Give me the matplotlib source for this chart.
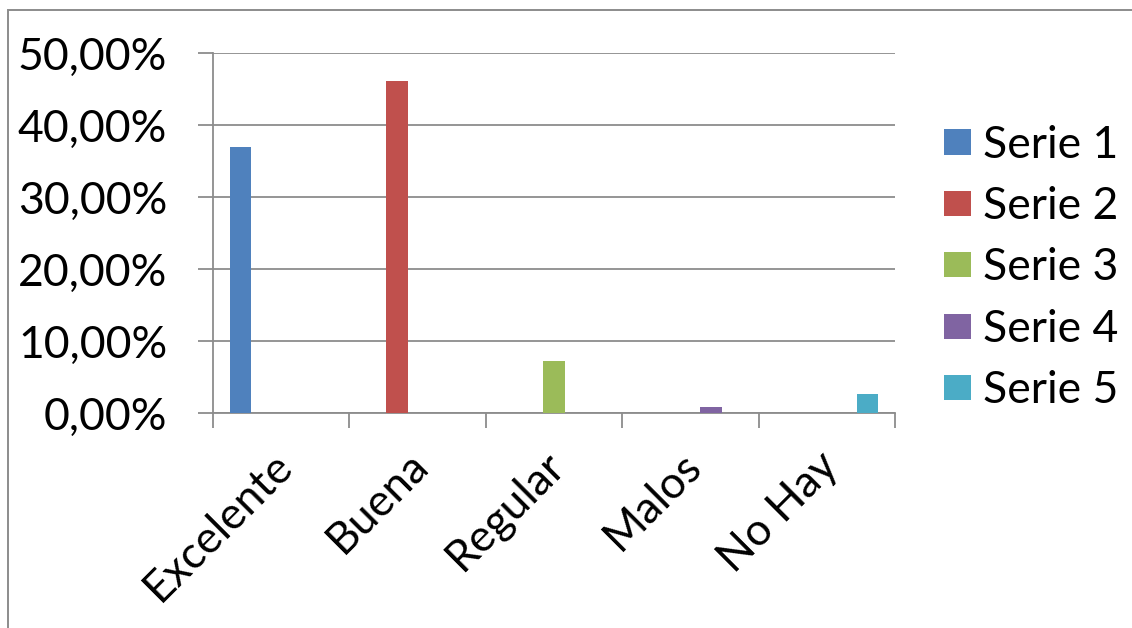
import matplotlib.pyplot as plt
from matplotlib.patches import Rectangle
from matplotlib.ticker import FuncFormatter, MultipleLocator
from matplotlib.transforms import ScaledTranslation
import numpy as np

# categories and series values (percent)
categories = ['Excelente', 'Buena', 'Regular', 'Malos', 'No Hay']
series_names = ['Serie 1', 'Serie 2', 'Serie 3', 'Serie 4', 'Serie 5']
serie_1 = [37.0, 0, 0, 0, 0]
serie_2 = [0, 46.1, 0, 0, 0]
serie_3 = [0, 0, 7.2, 0, 0]
serie_4 = [0, 0, 0, 0.8, 0]
serie_5 = [0, 0, 0, 0, 2.65]
colors = ['#4F81BD', '#C0504D', '#9BBB59', '#8064A2', '#4BACC6']

plt.rcParams['font.family'] = ['Lato', 'DejaVu Sans']

fig = plt.figure(figsize=(11.32, 6.28), dpi=100)
ax = fig.add_axes([213 / 1132, 1 - 413 / 628, 682 / 1132, 360 / 628])

# outer chart border (only left and top visible)
fig.patches.append(Rectangle((8 / 1132, -0.1), 1.2, 1 - 10 / 628 + 0.1,
                             transform=fig.transFigure, fill=False,
                             edgecolor='#8c8c8c', linewidth=1.4))

x = np.arange(len(categories))
step = 0.15
all_series = [serie_1, serie_2, serie_3, serie_4, serie_5]
for i, (vals, name, c) in enumerate(zip(all_series, series_names, colors)):
    ax.bar(x + (i - 2) * step, vals, width=0.158, color=c, label=name, zorder=3)

ax.set_xlim(-0.5, 4.5)
ax.set_ylim(0, 50)
ax.yaxis.set_major_locator(MultipleLocator(10))
ax.yaxis.set_major_formatter(FuncFormatter(lambda v, p: f'{v:.2f}%'.replace('.', ',')))
ax.grid(axis='y', color='#8c8c8c', linewidth=1.3, zorder=0)

# category ticks on boundaries, labels at centers
ax.set_xticks(np.arange(-0.5, 5, 1))
ax.set_xticklabels([])
ax.set_xticks(x, minor=True)
ax.set_xticklabels(categories, minor=True, rotation=45, ha='right', va='top',
                   rotation_mode='anchor', fontsize=32)
ax.tick_params(axis='x', which='minor', length=0, pad=14)
ax.tick_params(axis='x', which='major', length=11, width=1.3, color='#8c8c8c')
ax.tick_params(axis='y', length=11, width=1.3, color='#8c8c8c', labelsize=32, pad=22)

# nudge the rotated labels a bit left and down
shift = ScaledTranslation(-10 / 100, -12 / 100, fig.dpi_scale_trans)
for lbl in ax.get_xticklabels(minor=True):
    lbl.set_transform(lbl.get_transform() + shift)

for s in ['top', 'right']:
    ax.spines[s].set_visible(False)
for s in ['left', 'bottom']:
    ax.spines[s].set_color('#8c8c8c')
    ax.spines[s].set_linewidth(1.3)

fig.legend(loc='center left', bbox_to_anchor=(944 / 1132, 1 - 268 / 628),
           frameon=False, fontsize=32, handlelength=0.61, handleheight=0.5,
           handletextpad=0.27, labelspacing=0.46, borderpad=0, borderaxespad=0)

fig.savefig('out.png', dpi=100)
